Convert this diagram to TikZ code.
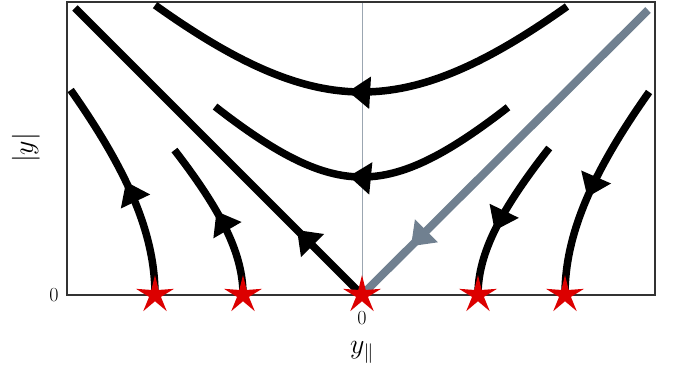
\RequirePackage{fix-cm}
\documentclass[tikz,border=0pt]{standalone}
\usepackage{amsmath}
\usepackage{xcolor}
\usetikzlibrary{arrows.meta, shapes.geometric, decorations.markings}
\definecolor{starred}{RGB}{220,0,0}
\definecolor{sepgray}{RGB}{112,128,144}

\begin{document}
\begin{tikzpicture}[x=100pt, y=100pt,
    flow/.style={line width=7.5pt, draw=black},
    sep/.style={line width=8pt, draw=sepgray},
    arr/.style={postaction={decorate}, decoration={markings, mark=at position #1 with {\arrow{Triangle[length=22pt, width=31pt]}}}},
    fixed/.style={star, star points=5, star point ratio=3.2, fill=starred, inner sep=0pt, minimum size=40pt},
    tick/.style={font=\fontsize{20}{24}\selectfont, inner sep=0pt},
    axislabel/.style={font=\fontsize{28}{32}\selectfont, inner sep=0pt}]
    \useasboundingbox (-3.62,-0.78) rectangle (3.21,2.95);
    \draw[sepgray!70, line width=0.8pt] (0,0) -- (0,2.93);
    \draw[black!80, line width=1.2pt] (-2.95,0) rectangle (2.93,2.93);
    % hyperbolic flow lines
    \draw[flow, arr=0.528] plot[domain=-2.05:2.07, samples=80] ({-\x},{sqrt(2.03*2.03+\x*\x)});
    \draw[flow, arr=0.538] plot[domain=-1.46:1.47, samples=80] ({-\x},{sqrt(1.18*1.18+\x*\x)});
    \draw[flow, arr=118pt] plot[domain=0:2.05, samples=60] ({-sqrt(2.07*2.07+\x*\x)},{\x});
    \draw[flow, arr=89pt] plot[domain=0:1.45, samples=60] ({-sqrt(1.19*1.19+\x*\x)},{\x});
    \draw[flow, arr=-67pt] plot[domain=-1.47:0, samples=60] ({sqrt(1.16*1.16+\x*\x)},{-\x});
    \draw[flow, arr=-101pt] plot[domain=-2.03:0, samples=60] ({sqrt(2.03*2.03+\x*\x)},{-\x});
    \draw[flow, arr=92pt] (0,0) -- (-2.87,2.87);
    \draw[sep, arr=-69pt] (2.86,2.85) -- (0,0);
    % fixed points
    \node[fixed] (f1) at (-2.07,0) {};
    \node[fixed] (f2) at (-1.19,0) {};
    \node[fixed] (f0) at (0,0) {};
    \node[fixed] (f3) at (1.16,0) {};
    \node[fixed] (f4) at (2.03,0) {};
    % axis labels
    \node[tick] (zl) at (-3.08,0) {$0$};
    \node[tick] (zb) at (0,-0.23) {$0$};
    \node[axislabel, rotate=90] (ylab) at (-3.36,1.47) {$|y|$};
    \node[axislabel] (xlab) at (0,-0.575) {$y_{\parallel}$};
\end{tikzpicture}
\end{document}
